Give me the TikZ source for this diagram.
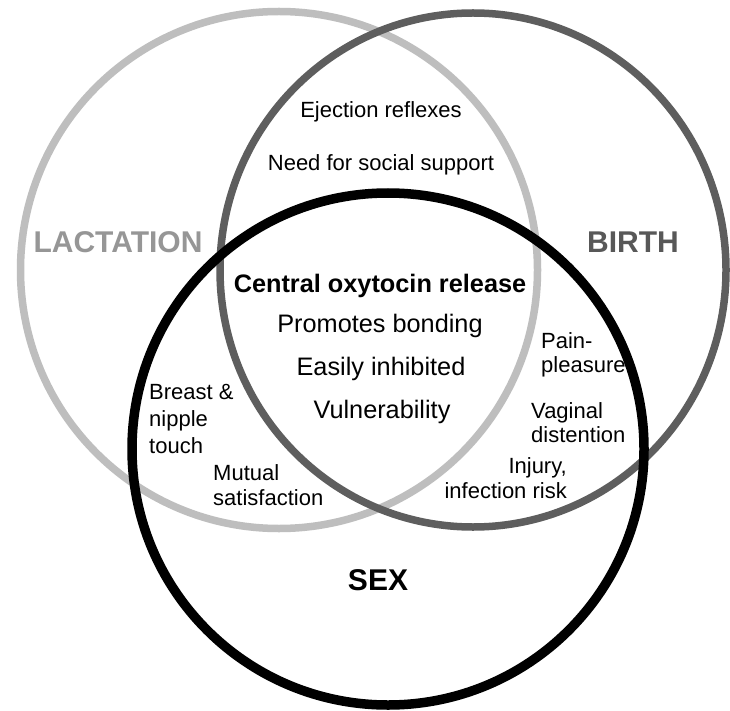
\documentclass[tikz,border=0pt]{standalone}
\usepackage{fontspec}
\setmainfont{Liberation Sans}
\definecolor{lactgray}{HTML}{BEBEBE}
\definecolor{birthgray}{HTML}{5E5E5E}
\definecolor{lacttext}{HTML}{969696}
\definecolor{birthtext}{HTML}{585858}
\begin{document}
\begin{tikzpicture}[x=1pt,y=-1pt,
  small/.style={font=\fontsize{22}{26}\selectfont, inner sep=0pt},
  mid/.style={font=\fontsize{25.3}{30}\selectfont, inner sep=0pt, anchor=base},
  midbold/.style={font=\fontsize{25.3}{30}\selectfont\bfseries, inner sep=0pt, anchor=base},
  setname/.style={font=\fontsize{30}{36}\selectfont\bfseries, inner sep=0pt, anchor=base}]
\useasboundingbox (0,0) rectangle (730,711);
\fill[white] (0,0) rectangle (730,711);

% circles
\draw[lactgray, line width=7.5pt] (279,270) circle[radius=258.5pt];
\draw[birthgray, line width=7.5pt] (473,270) ellipse[x radius=253pt, y radius=257pt];
\draw[black, line width=9.5pt] (388,449) circle[radius=256pt];

% set names
\node[setname, text=lacttext] (lact) at (118,252) {LACTATION};
\node[setname, text=birthtext] (birth) at (633,252) {BIRTH};
\node[setname, text=black] (sex) at (378,590) {SEX};

% lactation & birth
\node[small, anchor=base] (eject) at (381,118) {Ejection reflexes};
\node[small, anchor=base] (need) at (381,171) {Need for social support};

% centre
\node[midbold] (central) at (380,292) {Central oxytocin release};
\node[mid] (promotes) at (380,332) {Promotes bonding};
\node[mid] (easily) at (381,375) {Easily inhibited};
\node[mid] (vuln) at (382,418) {Vulnerability};

% birth & sex
\node[small, anchor=base west] (pain1) at (541,348) {Pain-};
\node[small, anchor=base west] (pain2) at (541,372) {pleasure};
\node[small, anchor=base west] (vag1) at (531,418) {Vaginal};
\node[small, anchor=base west] (vag2) at (531,442) {distention};
\node[small, anchor=base east] (inj1) at (567,473) {Injury,};
\node[small, anchor=base east] (inj2) at (567,498) {infection risk};

% lactation & sex
\node[small, anchor=base west] (breast1) at (149,399) {Breast \&};
\node[small, anchor=base west] (breast2) at (149,426) {nipple};
\node[small, anchor=base west] (breast3) at (149,453) {touch};
\node[small, anchor=base west] (mut1) at (213,480) {Mutual};
\node[small, anchor=base west] (mut2) at (213,505) {satisfaction};
\end{tikzpicture}
\end{document}
